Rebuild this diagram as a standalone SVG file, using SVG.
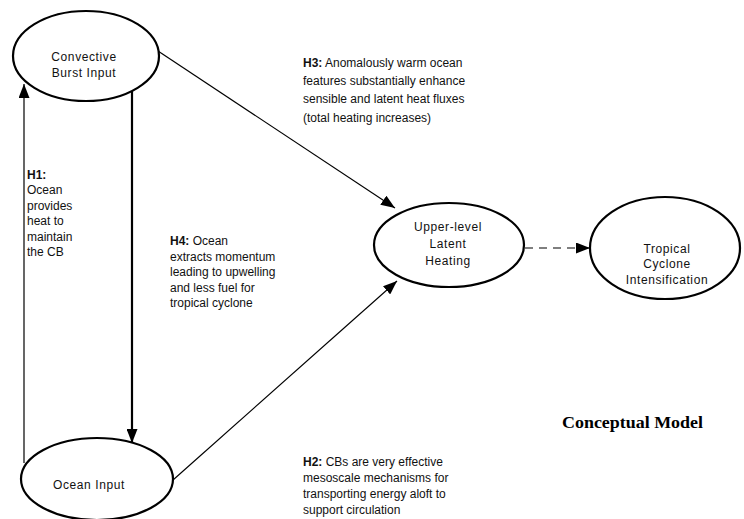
<svg xmlns="http://www.w3.org/2000/svg" width="744" height="519" viewBox="0 0 744 519">
<style>
.node{fill:#fff;stroke:#000;stroke-width:2.2}
.lbl{font-family:"Liberation Sans",Arial,sans-serif;font-size:12px;fill:#111}
.nl{letter-spacing:0.6px}
.ctr{text-anchor:middle}
.b{font-weight:bold}
.edge{stroke:#000;fill:none;stroke-width:1.2}
.title{font-family:"Liberation Serif","Times New Roman",serif;font-size:17px;font-weight:bold;fill:#000}
</style>
<defs>
<marker id="ah" viewBox="0 0 14 11" refX="14" refY="5.5" markerWidth="14" markerHeight="11" markerUnits="userSpaceOnUse" orient="auto">
<path d="M0,0 L14,5.5 L0,11 Z" fill="#000"/>
</marker>
</defs>
<rect width="744" height="519" fill="#fff"/>
<g id="connectors">
<line class="edge" x1="24" y1="463" x2="24" y2="84" marker-end="url(#ah)"/>
<line class="edge" x1="132" y1="80" x2="132" y2="443" style="stroke-width:2.2" marker-end="url(#ah)"/>
<line class="edge" x1="158" y1="51" x2="395" y2="208" marker-end="url(#ah)"/>
<line class="edge" x1="173" y1="480" x2="397" y2="281" marker-end="url(#ah)"/>
<line class="edge" x1="525" y1="248" x2="590" y2="248" stroke-dasharray="8,6" marker-end="url(#ah)"/>
</g>
<g id="cb">
<ellipse class="node" cx="86" cy="56" rx="73" ry="45"/>
<text class="lbl ctr nl" x="84" y="61">Convective</text>
<text class="lbl ctr nl" x="84" y="77">Burst Input</text>
</g>
<g id="ocean">
<ellipse class="node" cx="97" cy="479" rx="76" ry="41"/>
<text class="lbl ctr nl" x="89" y="489">Ocean Input</text>
</g>
<g id="ulh">
<ellipse class="node" cx="449" cy="245" rx="75" ry="42"/>
<text class="lbl ctr nl" x="448" y="231">Upper-level</text>
<text class="lbl ctr nl" x="448" y="248">Latent</text>
<text class="lbl ctr nl" x="448" y="265">Heating</text>
</g>
<g id="tci">
<ellipse class="node" cx="665" cy="248" rx="75" ry="51"/>
<text class="lbl ctr nl" x="667" y="253">Tropical</text>
<text class="lbl ctr nl" x="667" y="268">Cyclone</text>
<text class="lbl ctr nl" x="667" y="284">Intensification</text>
</g>
<g id="h1">
<text class="lbl b" x="27" y="179">H1:</text>
<text class="lbl" x="27" y="194">Ocean</text>
<text class="lbl" x="27" y="210">provides</text>
<text class="lbl" x="27" y="225">heat to</text>
<text class="lbl" x="27" y="241">maintain</text>
<text class="lbl" x="27" y="256">the CB</text>
</g>
<g id="h4">
<text class="lbl" x="170" y="245"><tspan class="b">H4:</tspan>  Ocean</text>
<text class="lbl" x="170" y="261">extracts momentum</text>
<text class="lbl" x="170" y="276">leading to upwelling</text>
<text class="lbl" x="170" y="292">and less fuel for</text>
<text class="lbl" x="170" y="307">tropical cyclone</text>
</g>
<g id="h3">
<text class="lbl" x="303" y="67"><tspan class="b">H3:</tspan> Anomalously warm ocean</text>
<text class="lbl" x="303" y="85">features substantially enhance</text>
<text class="lbl" x="303" y="103">sensible and latent heat fluxes</text>
<text class="lbl" x="303" y="122">(total heating increases)</text>
</g>
<g id="h2">
<text class="lbl" x="303" y="466"><tspan class="b">H2:</tspan> CBs are very effective</text>
<text class="lbl" x="303" y="482">mesoscale mechanisms for</text>
<text class="lbl" x="303" y="498">transporting energy aloft to</text>
<text class="lbl" x="303" y="514">support circulation</text>
</g>
<g id="title">
<text class="title" x="562" y="428" textLength="141" lengthAdjust="spacingAndGlyphs">Conceptual Model</text>
</g>
</svg>
